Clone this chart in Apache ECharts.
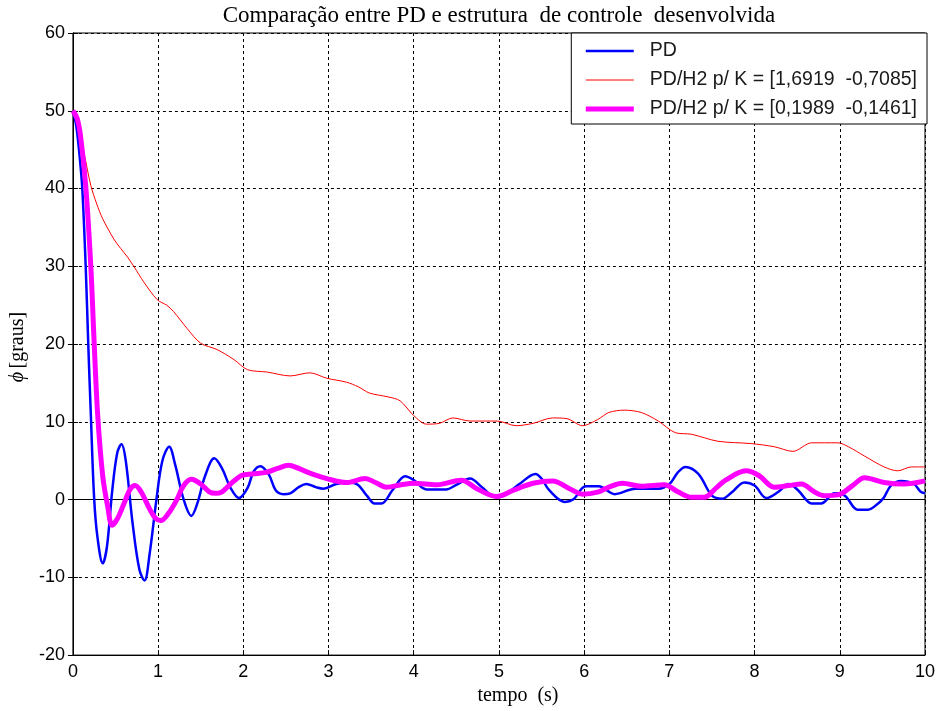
<!DOCTYPE html>
<html><head><meta charset="utf-8">
<script src="https://cdn.jsdelivr.net/npm/echarts@6/dist/echarts.min.js"></script>
<style>html,body{margin:0;padding:0;background:#fff}#c{width:938px;height:711px}</style>
</head><body><div id="c"></div>
<script>
// ---- data ----
const titleText = 'Comparação entre PD e estrutura  de controle  desenvolvida';
const xLabel = 'tempo  (s)';
const seriesNames = ['PD', 'PD/H2 p/ K = [1,6919  -0,7085]', 'PD/H2 p/ K = [0,1989  -0,1461]'];

const tPD = [0,0.04,0.08,0.11,0.15,0.18,0.21,0.25,0.29,0.35,0.40,0.46,0.52,0.57,0.62,0.70,0.78,0.84,0.90,0.98,1.05,1.13,1.20,1.30,1.39,1.46,1.55,1.66,1.75,1.85,1.95,2.05,2.12,2.20,2.30,2.38,2.47,2.55,2.65,2.74,2.85,2.94,3.09,3.20,3.33,3.45,3.54,3.62,3.75,3.90,4.00,4.15,4.38,4.50,4.66,4.80,4.93,5.00,5.12,5.24,5.43,5.50,5.59,5.77,5.87,6.02,6.17,6.36,6.60,6.87,7.00,7.10,7.19,7.34,7.50,7.62,7.73,7.88,8.00,8.14,8.28,8.40,8.51,8.67,8.78,8.94,9.06,9.21,9.33,9.45,9.52,9.60,9.72,9.87,9.95,10.0];
const vPD = [50,48,44,40,30,20,11,0,-5,-8.2,-6,1,6,7.1,5,-3,-9,-10.4,-7,0,5,6.8,4.5,0,-2.1,-0.5,3,5.3,4,1.5,0.2,1.5,3.6,4.3,3.2,1.2,0.7,0.8,1.6,2.0,1.6,1.4,2.0,2.2,2.0,0.5,-0.5,-0.5,1.2,3.0,2.5,1.3,1.3,1.9,2.7,1.6,0.4,0.3,1.0,2.0,3.3,2.7,1.2,-0.3,0,1.7,1.7,0.7,1.4,1.4,2.0,3.5,4.2,3.3,0.5,0.1,0.9,2.2,1.8,0.2,1.0,2.0,1.2,-0.5,-0.5,0.8,0.5,-1.3,-1.3,-0.5,0.3,1.8,2.4,2.0,1.0,0.8];

const tK1 = [0,0.05,0.13,0.21,0.28,0.35,0.48,0.56,0.64,0.72,0.83,0.99,1.10,1.18,1.34,1.50,1.69,1.89,2.05,2.28,2.55,2.78,2.98,3.21,3.35,3.48,3.70,3.84,4.00,4.15,4.30,4.46,4.66,4.98,5.20,5.40,5.63,5.80,5.98,6.16,6.29,6.47,6.67,6.87,7.07,7.26,7.57,7.96,8.23,8.45,8.67,8.98,9.10,9.29,9.52,9.68,9.84,10.0];
const vK1 = [50,48.5,44.6,40.4,38,36.1,33.5,32.3,31.2,29.9,28,25.7,25,24.2,22,20.1,19.3,18,16.7,16.4,15.9,16.3,15.6,15.1,14.5,13.7,13.2,12.7,10.8,9.7,9.8,10.5,10.1,10.1,9.5,9.8,10.5,10.4,9.5,10.3,11.2,11.5,11.2,10.1,8.6,8.4,7.5,7.2,6.8,6.2,7.3,7.3,6.8,5.6,4.2,3.7,4.2,4.2];

const tK2 = [0,0.05,0.09,0.15,0.21,0.25,0.29,0.35,0.41,0.46,0.52,0.60,0.67,0.73,0.80,0.90,0.97,1.03,1.12,1.22,1.30,1.39,1.50,1.60,1.67,1.75,1.85,1.98,2.10,2.27,2.40,2.53,2.65,2.78,2.98,3.21,3.43,3.55,3.68,3.85,4.00,4.27,4.56,4.74,4.97,5.17,5.40,5.63,5.83,5.98,6.17,6.29,6.45,6.67,6.94,7.10,7.26,7.41,7.55,7.66,7.90,8.05,8.23,8.40,8.55,8.70,8.82,8.98,9.15,9.29,9.52,9.75,10.0];
const vK2 = [50,49,46.7,40.4,30,20,11,3,-1,-3.3,-2.5,-0.5,1.3,1.8,1.0,-1.2,-2.4,-2.7,-1.8,0,1.8,2.6,2.0,1.0,0.8,1.0,2.0,3.1,3.3,3.5,4.0,4.4,4.0,3.4,2.7,2.2,2.7,2.2,1.6,1.9,2.1,1.9,2.5,1.4,0.4,1.2,2.1,2.4,1.4,0.7,1.0,1.6,2.1,1.7,1.9,1.0,0.3,0.3,1.5,2.5,3.7,3.1,1.6,1.8,2.0,1.0,0.5,0.6,1.8,2.8,2.2,2.0,2.4];

const xMin = 0, xMax = 10, xStep = 1;
const yMin = -20, yMax = 60, yStep = 10;

// ---- chart ----
const zip = (t, v) => t.map((x, i) => [x, v[i]]);
const colors = ['#0000ff', '#ff0000', '#ff00ff'];
const widths = [2.5, 1, 5];
const chart = echarts.init(document.getElementById('c'), null, {renderer: 'canvas'});
const G = {left: 71, right: 11, top: 33, bottom: 52};
const tickFont = {fontFamily: '"Liberation Sans", Arial, sans-serif', fontSize: 18, color: '#000'};
const dash = {color: '#000', width: 1, type: [3, 3]};

chart.setOption({
  animation: false,
  backgroundColor: '#fff',
  grid: Object.assign({show: true, borderColor: '#000', borderWidth: 1, backgroundColor: '#fff'}, G),
  graphic: [{
    type: 'text', x: 499, y: 4,
    style: {text: titleText, font: '23px "Liberation Serif", "Times New Roman", serif', fill: '#000', textAlign: 'center'}
  }],
  legend: {
    orient: 'vertical', right: 11, top: 33,
    backgroundColor: '#fff', borderColor: '#000', borderWidth: 1,
    padding: [8, 10, 5, 12], itemGap: 9, itemWidth: 48, itemHeight: 20,
    itemStyle: {opacity: 0},
    textStyle: {fontFamily: '"Liberation Sans", Arial, sans-serif', fontSize: 19.5, color: '#1a1a1a', padding: [0, 0, 0, 11]},
    data: seriesNames.map((n, i) => ({name: n, lineStyle: {width: widths[i], color: colors[i]}}))
  },
  xAxis: [{
    type: 'value', min: xMin, max: xMax, interval: xStep,
    axisLine: {show: true, onZero: false, lineStyle: {color: '#000'}},
    axisTick: {show: true, inside: true, length: 5, lineStyle: {color: '#000'}},
    axisLabel: Object.assign({margin: 8}, tickFont),
    splitLine: {show: true, lineStyle: dash},
    name: xLabel, nameLocation: 'middle', nameGap: 28,
    nameTextStyle: {fontFamily: '"Liberation Serif", "Times New Roman", serif', fontSize: 20, color: '#000', padding: [0, 0, 0, 38]}
  }, {
    type: 'value', min: xMin, max: xMax, interval: xStep, position: 'top',
    axisLine: {show: true, lineStyle: {color: '#000'}},
    axisTick: {show: true, inside: true, length: 5, lineStyle: {color: '#000'}},
    axisLabel: {show: false}, splitLine: {show: false}
  }],
  yAxis: [{
    type: 'value', min: yMin, max: yMax, interval: yStep,
    axisLine: {show: true, onZero: false, lineStyle: {color: '#000'}},
    axisTick: {show: true, inside: true, length: 5, lineStyle: {color: '#000'}},
    axisLabel: Object.assign({margin: 8}, tickFont),
    splitLine: {show: true, lineStyle: dash},
    name: '{phi|ϕ} {t|[graus]}', nameLocation: 'middle', nameGap: 31, nameRotate: 90,
    nameTextStyle: {padding: [0, 6, 0, 0], rich: {
      phi: {fontFamily: '"Liberation Serif", serif', fontStyle: 'italic', fontSize: 20, color: '#000'},
      t: {fontFamily: '"Liberation Serif", serif', fontSize: 20, color: '#000'}
    }}
  }, {
    type: 'value', min: yMin, max: yMax, interval: yStep, position: 'right',
    axisLine: {show: true, lineStyle: {color: '#000'}},
    axisTick: {show: true, inside: true, length: 5, lineStyle: {color: '#000'}},
    axisLabel: {show: false}, splitLine: {show: false}
  }],
  series: [
    {name: seriesNames[0], type: 'line', data: zip(tPD, vPD), smooth: 0.35, symbol: 'none',
     lineStyle: {color: colors[0], width: widths[0]}, itemStyle: {color: colors[0]}, z: 3},
    {name: seriesNames[1], type: 'line', data: zip(tK1, vK1), smooth: 0.3, symbol: 'none',
     lineStyle: {color: colors[1], width: widths[1]}, itemStyle: {color: colors[1]}, z: 4},
    {name: seriesNames[2], type: 'line', data: zip(tK2, vK2), smooth: 0.35, symbol: 'none',
     lineStyle: {color: colors[2], width: widths[2]}, itemStyle: {color: colors[2]}, z: 5}
  ]
});
</script></body></html>
